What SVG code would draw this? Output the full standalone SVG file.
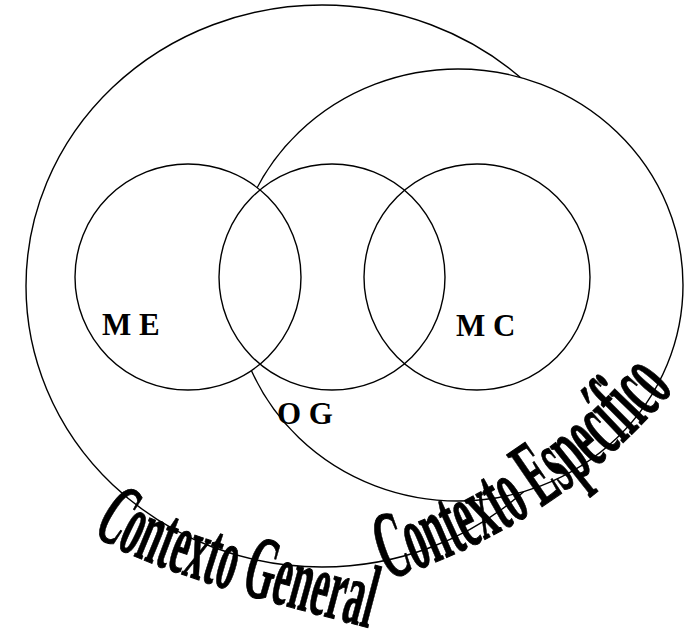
<svg xmlns="http://www.w3.org/2000/svg" width="693" height="630" viewBox="0 0 693 630">
<style>
.ln{fill:none;stroke:#000;stroke-width:1.4}
.bg{fill:#fff;stroke:none}
.lab{font-family:"Liberation Serif","Times New Roman",serif;font-weight:bold;font-size:31px;fill:#000}
.wa{font-family:"Liberation Serif","Times New Roman",serif;font-weight:bold;fill:#000;stroke:#000;stroke-width:1}
</style>
<defs>
<path id="pg" d="M 92 532 C 130 565, 262 600, 376 630"/>
<path id="pe" d="M 387 580 Q 565 522 678 384"/>
<circle id="cme" cx="188" cy="277" r="113"/>
<circle id="cog" cx="332" cy="277" r="113"/>
<circle id="cmc" cx="477" cy="277" r="113"/>
</defs>
<rect width="693" height="630" fill="#fff"/>
<g id="contexto-general">
<ellipse cx="322" cy="286" rx="296" ry="281" class="ln" style="fill:#fff"/>
</g>
<g id="contexto-especifico">
<ellipse cx="458" cy="285" rx="225" ry="216" class="ln" style="fill:#fff"/>
</g>
<g id="fills">
<use href="#cme" class="bg"/>
<use href="#cog" class="bg"/>
<use href="#cmc" class="bg"/>
</g>
<g id="me">
<use href="#cme" class="ln"/>
<text class="lab" x="102" y="335">M E</text>
</g>
<g id="og">
<use href="#cog" class="ln"/>
<text class="lab" x="277" y="424">O G</text>
</g>
<g id="mc">
<use href="#cmc" class="ln"/>
<text class="lab" x="456" y="336">M C</text>
</g>
<g id="labels-contexto">
<text class="wa" font-size="90"><textPath href="#pg" textLength="294" lengthAdjust="spacingAndGlyphs">Contexto General</textPath></text>
<text class="wa" font-size="96"><textPath href="#pe" textLength="350" lengthAdjust="spacingAndGlyphs">Contexto Específico</textPath></text>
</g>
<g id="connectors"/>
</svg>
